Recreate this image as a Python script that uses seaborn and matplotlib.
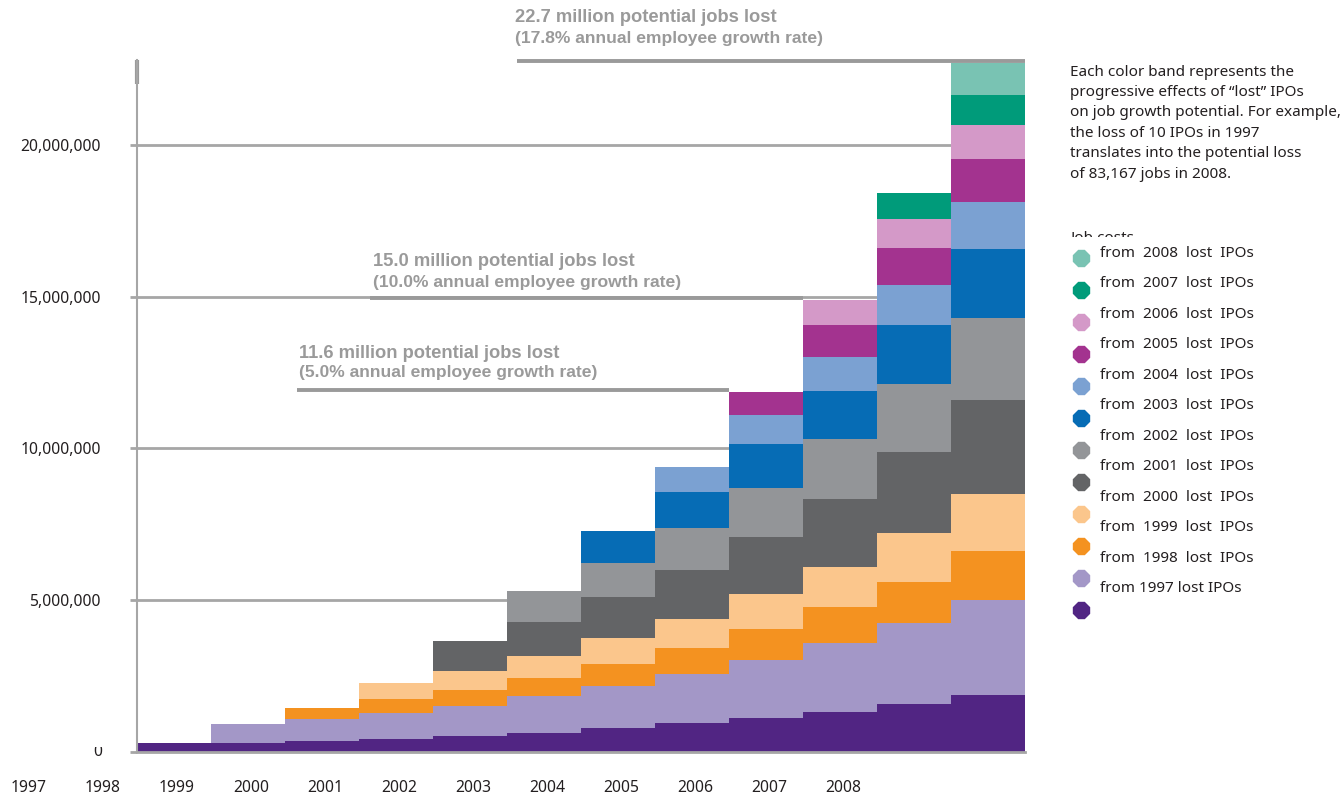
import matplotlib
matplotlib.use("Agg")
import numpy as np
import pandas as pd
import matplotlib.pyplot as plt
import seaborn as sns
from matplotlib.lines import Line2D
from matplotlib.transforms import Bbox, TransformedBbox

# ---------------- data ----------------
bar_positions = list(range(12))
x_tick_positions = list(range(-2, 10))
x_tick_labels = ["1997", "1998", "1999", "2000", "2001", "2002",
                 "2003", "2004", "2005", "2006", "2007", "2008"]

cohorts = ["1997", "1998", "1999", "2000", "2001", "2002",
           "2003", "2004", "2005", "2006", "2007", "2008"]
cohort_colors = ["#512583", "#A397C7", "#F49220", "#FBC68C", "#636466", "#939598",
                 "#066CB5", "#7BA1D2", "#A3338F", "#D499C8", "#009B7A", "#79C3B3"]

# jobs lost (millions) per bar, each cohort starting at the bar of its year
jobs_1997 = [0.287, 0.287, 0.362, 0.418, 0.527, 0.616, 0.781, 0.946, 1.130, 1.328, 1.582, 1.878]
jobs_1998 = [0.636, 0.715, 0.857, 0.999, 1.219, 1.394, 1.614, 1.901, 2.254, 2.658, 3.130]
jobs_1999 = [0.383, 0.471, 0.527, 0.603, 0.725, 0.857, 1.012, 1.186, 1.361, 1.605]
jobs_2000 = [0.518, 0.626, 0.715, 0.846, 0.955, 1.153, 1.337, 1.605, 1.888]
jobs_2001 = [0.968, 1.130, 1.351, 1.625, 1.898, 2.231, 2.669, 3.097]
jobs_2002 = [1.022, 1.140, 1.374, 1.595, 1.967, 2.240, 2.712]
jobs_2003 = [1.055, 1.206, 1.449, 1.601, 1.944, 2.273]
jobs_2004 = [0.823, 0.966, 1.121, 1.328, 1.549]
jobs_2005 = [0.758, 1.034, 1.209, 1.417]
jobs_2006 = [0.834, 0.956, 1.120]
jobs_2007 = [0.857, 0.978]
jobs_2008 = [1.065]
cohort_jobs = [jobs_1997, jobs_1998, jobs_1999, jobs_2000, jobs_2001, jobs_2002,
               jobs_2003, jobs_2004, jobs_2005, jobs_2006, jobs_2007, jobs_2008]

y_ticks = [0, 5_000_000, 10_000_000, 15_000_000, 20_000_000]
y_tick_labels = ["0", "5,000,000", "10,000,000", "15,000,000", "20,000,000"]

legend_labels = ["from  2008  lost  IPOs", "from  2007  lost  IPOs", "from  2006  lost  IPOs",
                 "from  2005  lost  IPOs", "from  2004  lost  IPOs", "from  2003  lost  IPOs",
                 "from  2002  lost  IPOs", "from  2001  lost  IPOs", "from  2000  lost  IPOs",
                 "from  1999  lost  IPOs", "from  1998  lost  IPOs", "from 1997 lost IPOs"]

note_lines = ["Each color band represents the",
              "progressive effects of \u201clost\u201d IPOs",
              "on job growth potential. For example,",
              "the loss of 10 IPOs in 1997",
              "translates into the potential loss",
              "of 83,167 jobs in 2008."]

annot_texts = [("11.6 million potential jobs lost", "(5.0% annual employee growth rate)"),
               ("15.0 million potential jobs lost", "(10.0% annual employee growth rate)"),
               ("22.7 million potential jobs lost", "(17.8% annual employee growth rate)")]
annot_bars = [8, 9, 11]

# ---------------- frame ----------------
rows = []
for ci, (cohort, vals) in enumerate(zip(cohorts, cohort_jobs)):
    for k, v in enumerate(vals):
        rows.append({"pos": bar_positions[ci + k], "cohort": cohort, "jobs": v * 1e6})
df = pd.DataFrame(rows)
totals = df.groupby("pos")["jobs"].sum()

W, H = 1344, 799
def fx(px):
    return px / W
def fy(py):
    return 1 - py / H

sns.set_theme(style="white")
plt.rcParams["font.family"] = ["Noto Sans", "DejaVu Sans"]
TXT = "#231F20"
GRID = "#A6A6A6"
ANN = "#9A9A9A"

fig = plt.figure(figsize=(W / 100, H / 100), dpi=100)
ax = fig.add_axes([fx(137), fy(752), fx(1025) - fx(137), fy(60) - fy(752)])

ax.set_axisbelow(True)
for yt in y_ticks[1:]:
    ax.axhline(yt, color=GRID, lw=2, zorder=0)

# seaborn stacks the first hue level on top, so feed the cohorts newest-first
sns.histplot(data=df, x="pos", weights="jobs", hue="cohort", hue_order=cohorts[::-1],
             palette=cohort_colors[::-1], multiple="stack", discrete=True, shrink=1,
             alpha=1, linewidth=0, legend=False, ax=ax)

ax.set_xlim(-0.5, 11.5)
ax.set_ylim(0, 22.8e6)
ax.set_xlabel("")
ax.set_ylabel("")
ax.set_xticks([])
ax.set_yticks(y_ticks)
ax.set_yticklabels([""] + y_tick_labels[1:])
ax.tick_params(axis="y", length=5, width=2, color=GRID, pad=21, labelsize=11.3, labelcolor=TXT, left=True)
for s in ["top", "right"]:
    ax.spines[s].set_visible(False)
ax.spines["left"].set_color(GRID)
ax.spines["left"].set_linewidth(1.5)
ax.spines["bottom"].set_color(GRID)
ax.spines["bottom"].set_linewidth(2)
# thicker cap at the top of the value axis
ax.plot([0, 0], [0.965, 1.0], transform=ax.transAxes, color="#9A9A9A", lw=3,
        solid_capstyle="butt", clip_on=False)

# clipped zero label
zt = fig.text(fx(102), fy(752), y_tick_labels[0], ha="right", va="center", fontsize=11.3, color=TXT)
zt.set_clip_box(TransformedBbox(Bbox([[fx(80), fy(770)], [fx(110), fy(747)]]), fig.transFigure))
zt.set_clip_on(True)

# x labels (shifted as in the original)
for p, lab in zip(x_tick_positions, x_tick_labels):
    ax.text(p + 0.04, -0.052, lab, transform=ax.get_xaxis_transform(), ha="center", va="center",
            fontsize=11.3, color=TXT, clip_on=False)

# annotation lines and texts
annot_x = [(1.66, 7.5, 299), (2.65, 8.5, 373), (4.64, 11.5, 515)]
annot_y = [(353, 372), (262, 282), (17, 39)]
for (t1, t2), b, (xa, xb, tx), (y1, y2) in zip(annot_texts, annot_bars, annot_x, annot_y):
    lvl = totals.loc[b] + 0.05e6
    ax.plot([xa, xb], [lvl, lvl], color=ANN, lw=2.8, solid_capstyle="butt", clip_on=False, zorder=5)
    fig.text(fx(tx), fy(y1), t1, ha="left", va="center", fontsize=13.2, fontweight="bold",
             color=ANN, family=["Liberation Sans", "DejaVu Sans"])
    fig.text(fx(tx), fy(y2), t2, ha="left", va="center", fontsize=12.6, fontweight="bold",
             color=ANN, family=["Liberation Sans", "DejaVu Sans"])

# note text
for i, line in enumerate(note_lines):
    fig.text(fx(1070), fy(72 + 20.4 * i), line, ha="left", va="center", fontsize=11, color=TXT)

# legend title (clipped)
jt = fig.text(fx(1070), fy(238), "Job costs", ha="left", va="center", fontsize=11, color=TXT)
jt.set_clip_box(TransformedBbox(Bbox([[fx(1060), fy(237)], [fx(1200), fy(220)]]), fig.transFigure))
jt.set_clip_on(True)

legend_colors = cohort_colors[::-1]
for i, (lab, col) in enumerate(zip(legend_labels, legend_colors)):
    fig.add_artist(Line2D([fx(1080.5)], [fy(258.3 + 31.97 * i)], marker="8", markersize=13,
                          color=col, linestyle="none", transform=fig.transFigure))
    fig.text(fx(1100), fy(253.3 + 30.5 * i), lab, ha="left", va="center", fontsize=11, color=TXT)

fig.savefig("out.png", dpi=100)
